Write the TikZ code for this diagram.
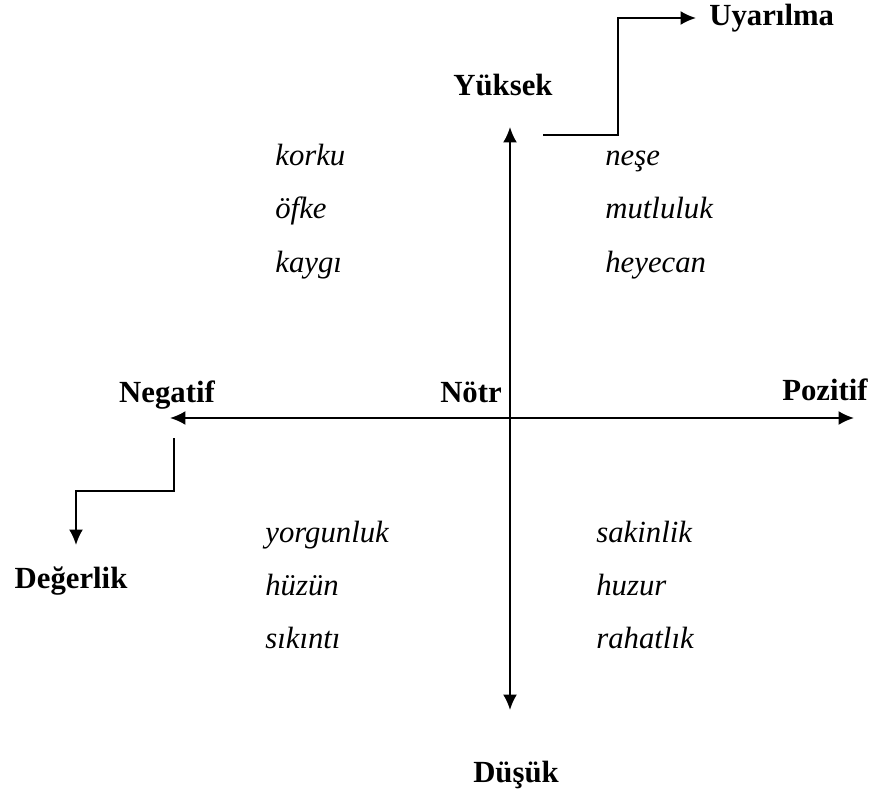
\documentclass[tikz,border=0pt]{standalone}
\usepackage{fontspec}
\setmainfont{Liberation Serif}
\usetikzlibrary{arrows.meta}

\begin{document}
\begin{tikzpicture}[x=0.02cm, y=-0.02cm, >={Latex[length=3.1mm,width=2.8mm]},
  axis/.style={line width=1.1pt},
  pole/.style={font=\fontsize{17.5}{21}\selectfont\bfseries, inner sep=0pt, anchor=base},
  feel/.style={font=\fontsize{17.5}{21}\selectfont\itshape, inner sep=0pt, anchor=base west}]

\useasboundingbox (0,0) rectangle (875,791);

% the two axes
\coordinate (o) at (510,418);
\coordinate (neg) at (170,418);
\coordinate (pos) at (854,418);
\coordinate (high) at (510,127);
\coordinate (low) at (510,710);

\draw [axis, <->] (neg) -- (pos);
\draw [axis, <->] (high) -- (low);

% pole labels
\node [pole] (yuksek) at (503,95) {Yüksek};
\node [pole] (dusuk) at (516,782) {Düşük};
\node [pole] (negatif) at (167,402) {Negatif};
\node [pole] (pozitif) at (825,400) {Pozitif};
\node [pole] (notr) at (471,402) {Nötr};
\node [pole] (degerlik) at (71,588) {Değerlik};
\node [pole, anchor=base west] (uyarilma) at (709,25) {Uyarılma};

% the dimension arrows
\coordinate (u1) at (543,135);
\coordinate (u2) at (618,18);
\draw [axis, ->] (u1) -| (u2) -- ([xshift=-0.26cm]uyarilma.west |- u2);

\coordinate (d1) at (174,438);
\coordinate (d2) at (76,491);
\coordinate (d3) at (76,545);
\draw [axis, ->] (d1) |- (d2) -- (d3);

% emotions, one list in each quarter
\node [feel] (korku) at (275,165) {korku};
\node [feel] (ofke) at (275,218) {öfke};
\node [feel] (kaygi) at (275,272) {kaygı};

\node [feel] (nese) at (605,165) {neşe};
\node [feel] (mutluluk) at (605,218) {mutluluk};
\node [feel] (heyecan) at (605,272) {heyecan};

\node [feel] (yorgunluk) at (265,542) {yorgunluk};
\node [feel] (huzun) at (265,595) {hüzün};
\node [feel] (sikinti) at (265,648) {sıkıntı};

\node [feel] (sakinlik) at (596,542) {sakinlik};
\node [feel] (huzur) at (596,595) {huzur};
\node [feel] (rahatlik) at (596,648) {rahatlık};

\end{tikzpicture}
\end{document}
